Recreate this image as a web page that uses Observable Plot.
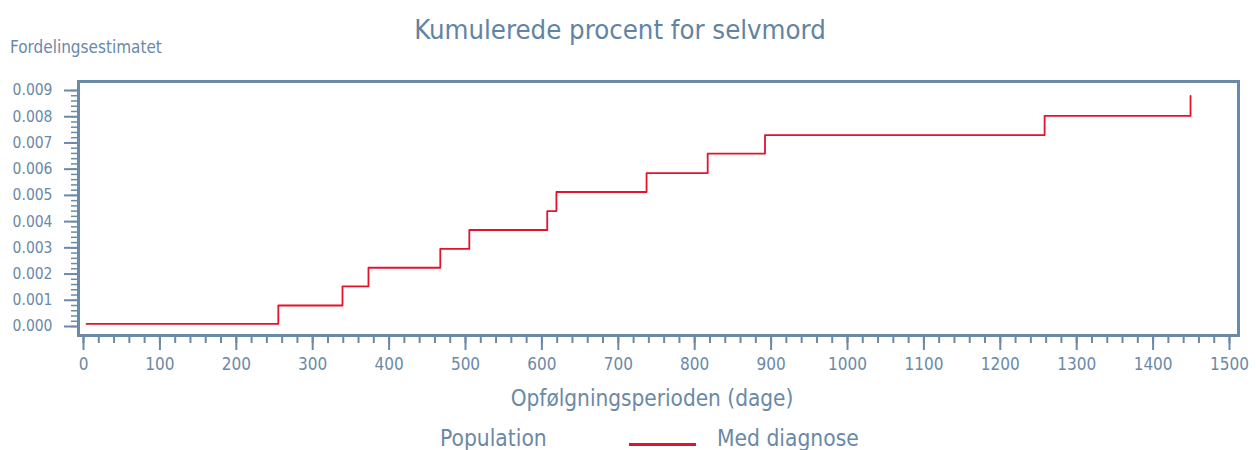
<!DOCTYPE html>
<html>
<head>
<meta charset="utf-8">
<script src="https://cdn.jsdelivr.net/npm/d3@7"></script>
<script src="https://cdn.jsdelivr.net/npm/@observablehq/plot@0.6"></script>
<style>
  html, body { margin: 0; padding: 0; background: #fff; }
  #wrap { position: relative; width: 1256px; height: 450px; overflow: hidden;
    font-family: "DejaVu Sans Condensed", "DejaVu Sans", sans-serif; color: #6a89a7; }
  .t { position: absolute; white-space: nowrap; line-height: 1; }
  #title { left: 0; width: 1240px; top: 16px; text-align: center; font-size: 27.3px; color: #6284a2; }
  #ylab { left: 10px; top: 39px; font-size: 17px; }
  #xlab { left: 0; width: 1304px; top: 387px; text-align: center; font-size: 22.4px; }
  #leg1 { left: 440px; top: 427px; font-size: 22.6px; }
  #legline { position: absolute; left: 629px; top: 443px; width: 67px; height: 3px; background: #e3122d; }
  #leg2 { left: 717px; top: 427px; font-size: 22.6px; }
</style>
</head>
<body>
<div id="wrap">
  <div id="chart"></div>
  <div class="t" id="title">Kumulerede procent for selvmord</div>
  <div class="t" id="ylab">Fordelingsestimatet</div>
  <div class="t" id="xlab">Opfølgningsperioden (dage)</div>
  <div class="t" id="leg1">Population</div>
  <div id="legline"></div>
  <div class="t" id="leg2">Med diagnose</div>
</div>
<script>
// Step data (days, cumulative estimate)
const days   = [4, 255, 339, 373, 467, 505, 607, 619, 737, 817, 892, 1258, 1449];
const values = [0.0001, 0.0008, 0.00153, 0.00224, 0.00296, 0.00368, 0.0044, 0.00513, 0.00585, 0.00659, 0.0073, 0.00803, 0.00879];
const xTicks = [0, 100, 200, 300, 400, 500, 600, 700, 800, 900, 1000, 1100, 1200, 1300, 1400, 1500];
const yTicks = [0, 0.001, 0.002, 0.003, 0.004, 0.005, 0.006, 0.007, 0.008, 0.009];

const data = days.map((d, i) => ({day: d, value: values[i]}));
const axisColor = "#6b8aa7";
const font = '"DejaVu Sans Condensed", "DejaVu Sans", sans-serif';

const chart = Plot.plot({
  width: 1256,
  height: 450,
  marginLeft: 78,
  marginRight: 18,
  marginTop: 81,
  marginBottom: 115,
  style: {fontFamily: font, color: "#6a89a7", background: "#fff"},
  x: {domain: [0, 1500], insetLeft: 5, insetRight: 9},
  y: {domain: [0, 0.009], insetTop: 9, insetBottom: 9},
  marks: [
    Plot.axisX({ticks: xTicks, tickSize: 15, tickPadding: 7, fontSize: 17, label: null, stroke: axisColor, strokeWidth: 2, tickFormat: d => String(d)}),
    Plot.axisX({interval: 20, tickSize: 8, text: null, label: null, stroke: axisColor, strokeWidth: 2}),
    Plot.axisY({ticks: yTicks, tickSize: 14, tickPadding: 12, fontSize: 15.5, label: null, stroke: axisColor, strokeWidth: 2, tickFormat: d3.format(".3f")}),
    Plot.axisY({interval: 0.0002, tickSize: 7, text: null, label: null, stroke: axisColor, strokeWidth: 1.5}),
    Plot.frame({stroke: axisColor, strokeWidth: 3}),
    Plot.line(data, {x: "day", y: "value", curve: "step-after", stroke: "#e3122d", strokeWidth: 1.8})
  ]
});
document.getElementById("chart").appendChild(chart);
</script>
</body>
</html>
